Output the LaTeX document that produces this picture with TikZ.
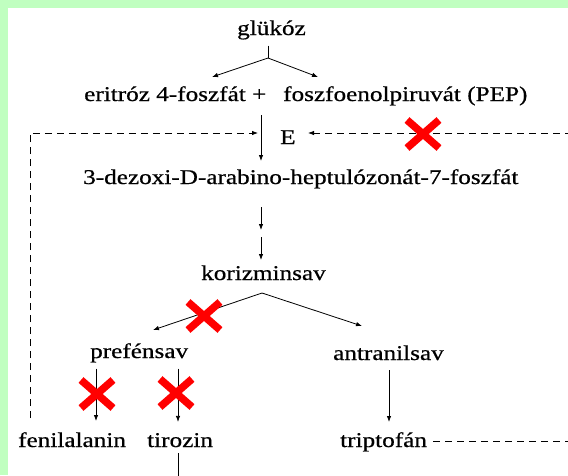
\documentclass[tikz,border=0pt]{standalone}
\usepackage{fontspec}
\setmainfont{Liberation Serif}[FakeStretch=1.2, FakeBold=0.6]
\usetikzlibrary{arrows.meta}
\definecolor{bggreen}{RGB}{192,255,192}

\begin{document}
\begin{tikzpicture}[x=1pt,y=-1pt,
    lbl/.style={font=\fontsize{21}{25}\selectfont, inner sep=0pt, anchor=base west},
    arr/.style={-{Latex[length=6pt,width=4.5pt]}, line width=0.8pt},
    fback/.style={arr, dash pattern=on 7pt off 5pt},
    cross/.style={red, line width=7.5pt}]
  % Frame
  \useasboundingbox (0,0) rectangle (568,475);
  \clip (0,0) rectangle (568,475);
  \fill[bggreen] (0,0) rectangle (568,475);
  \fill[white] (8,8) rectangle (568,475);
  % Compounds
  \node[lbl] (glukoz) at (237,35) {glükóz};
  \node[lbl] (eritroz) at (84,101) {eritróz 4-foszfát +};
  \node[lbl] (pep) at (283,101) {foszfoenolpiruvát (PEP)};
  \node[lbl] (enz) at (280,144) {E};
  \node[lbl] (dahp) at (83,184) {3-dezoxi-D-arabino-heptulózonát-7-foszfát};
  \node[lbl] (korizmin) at (201,280) {korizminsav};
  \node[lbl] (prefen) at (90,358) {prefénsav};
  \node[lbl] (antranil) at (333,360) {antranilsav};
  \node[lbl] (fenil) at (18,447) {fenilalanin};
  \node[lbl] (tirozin) at (147,447) {tirozin};
  \node[lbl] (tripto) at (340,447) {triptofán};
  % Branch points and arrow ends
  \coordinate (gsplit) at (268,58);
  \coordinate (gL) at (212,77);
  \coordinate (gR) at (318,77);
  \coordinate (stem) at (261,0);
  \coordinate (s1) at (261,207);
  \coordinate (s2) at (261,230);
  \coordinate (s3) at (261,237);
  \coordinate (s4) at (261,260);
  \coordinate (ksplit) at (262,293);
  \coordinate (kL) at (153,330);
  \coordinate (kR) at (362,326);
  \coordinate (pL) at (96,0);
  \coordinate (pR) at (178,0);
  \coordinate (aX) at (389,0);
  \coordinate (tdown) at (178,490);
  % Reaction arrows
  \draw[line width=0.8pt] (gsplit |- glukoz.south) ++(0,6) -- (gsplit);
  \draw[arr] (gsplit) -- (gL);
  \draw[arr] (gsplit) -- (gR);
  \draw[arr, shorten <=14pt, shorten >=8pt] (eritroz.south -| stem) -- (dahp.north -| stem);
  \draw[arr] (s1) -- (s2);
  \draw[arr] (s3) -- (s4);
  \draw[arr] (ksplit) -- (kL);
  \draw[arr] (ksplit) -- (kR);
  \draw[arr, shorten <=6pt, shorten >=11pt] (prefen.south -| pL) -- (fenil.north -| pL);
  \draw[arr, shorten <=6pt, shorten >=11pt] (prefen.south -| pR) -- (tirozin.north -| pR);
  \draw[arr, shorten <=10pt, shorten >=10pt] (antranil.south -| aX) -- (tripto.north -| aX);
  \draw[line width=0.8pt, shorten <=6pt] (tirozin.south -| tdown) -- (tdown);
  % Feedback inhibition
  \coordinate (fbL) at (30,133);
  \coordinate (Ein) at (258,133);
  \coordinate (Eout) at (308,133);
  \coordinate (far) at (600,133);
  \draw[fback, shorten <=14pt] (fenil.north -| fbL) -- (fbL) -- (Ein);
  \draw[fback, shorten <=6pt] (tripto.east) -- (tripto.east -| far) -- (far) -- (Eout);
  % Blocked steps
  \foreach \cx/\cy in {423/134, 204/316, 97/394, 176/393} {
    \draw[cross] (\cx-16,\cy-14) -- (\cx+16,\cy+14);
    \draw[cross] (\cx-16,\cy+14) -- (\cx+16,\cy-14);
  }
\end{tikzpicture}
\end{document}
